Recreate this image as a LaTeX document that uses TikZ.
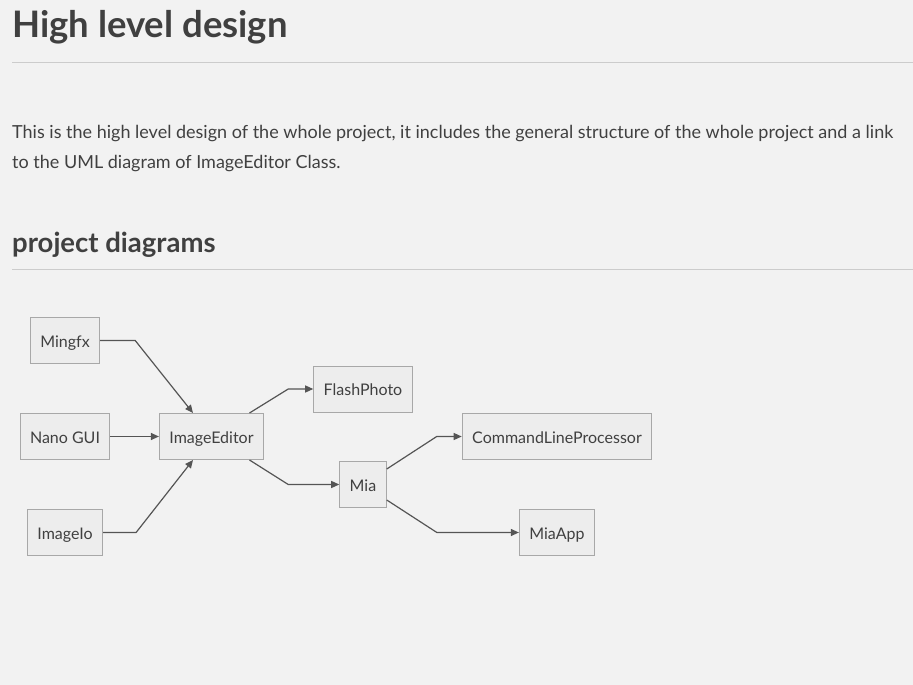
\documentclass[tikz,border=0pt]{standalone}
\usepackage{fontspec}
\setmainfont{Lato}
\usepackage{xcolor}
\usetikzlibrary{arrows.meta}
\definecolor{pagebg}{HTML}{F2F2F2}
\definecolor{inkx}{HTML}{404040}
\definecolor{rulex}{HTML}{CCCCCC}
\definecolor{boxfill}{HTML}{EDEDED}
\definecolor{boxline}{HTML}{A8A8A8}
\definecolor{edgex}{HTML}{555555}
\tikzset{
  ar/.style={-{Triangle[length=8pt,width=7pt]},line width=1.2pt,edgex},
  box/.style={draw=boxline,line width=1pt,fill=boxfill,text=inkx,minimum height=46pt,inner xsep=10pt,
    text height=13pt,text depth=0pt,font=\fontsize{16}{18}\selectfont},
  txt/.style={anchor=base west,inner sep=0pt,text=inkx}
}
\begin{document}
\begin{tikzpicture}[x=1pt,y=-1pt]
\fill[pagebg] (0,0) rectangle (913,685);
\useasboundingbox (0,0) rectangle (913,685);
% headings and text
\node[txt,font=\fontsize{36.5}{40}\selectfont\bfseries] (title) at (12,38) {High level design};
\draw[rulex,line width=1pt] (12,63) -- (913,63);
\node[txt,font=\fontsize{18}{22}\selectfont] (para1) at (12,138) {This is the high level design of the whole project, it includes the general structure of the whole project and a link};
\node[txt,font=\fontsize{18}{22}\selectfont] (para2) at (12,168) {to the UML diagram of ImageEditor Class.};
\node[txt,font=\fontsize{27.5}{30}\selectfont\bfseries] (sub) at (12,252) {project diagrams};
\draw[rulex,line width=1pt] (12,269) -- (913,269);
% diagram
\node[box] (mingfx) at (65,340.5) {Mingfx};
\node[box] (nanogui) at (65,436.5) {Nano GUI};
\node[box] (imageio) at (65,532.5) {ImageIo};
\node[box] (editor) at (211.5,436.5) {ImageEditor};
\node[box] (flash) at (363,389) {FlashPhoto};
\node[box] (mia) at (363,484.5) {Mia};
\node[box] (clp) at (557,436.5) {CommandLineProcessor};
\node[box] (miaapp) at (557,532.5) {MiaApp};
\draw[ar] (mingfx.east) -- ++(35,0) -- ([xshift=-18.5pt]editor.north);
\draw[ar] (nanogui) -- (editor);
\draw[ar] (imageio.east) -- ++(33,0) -- ([xshift=-18.5pt]editor.south);
\draw[ar] ([xshift=38pt]editor.north) -- ([xshift=-25pt]flash.west) -- (flash.west);
\draw[ar] ([xshift=38pt]editor.south) -- ([xshift=-51pt]mia.west) -- (mia.west);
\draw[ar] ([yshift=-8pt]mia.north east) -- ([xshift=-25pt]clp.west) -- (clp.west);
\draw[ar] ([yshift=8pt]mia.south east) -- ([xshift=-82pt]miaapp.west) -- (miaapp.west);
\end{tikzpicture}
\end{document}
